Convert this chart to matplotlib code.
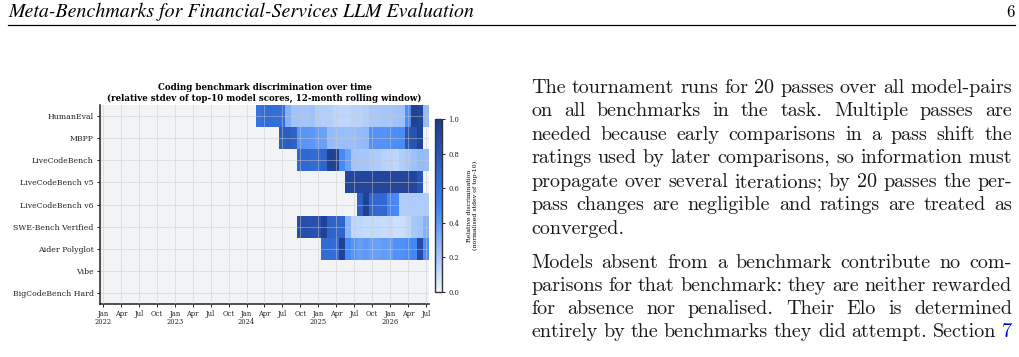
import numpy as np
import matplotlib
matplotlib.use("Agg")
import matplotlib.pyplot as plt
from matplotlib.colors import LinearSegmentedColormap
from matplotlib.lines import Line2D

# ---------------- data ----------------
benchmarks = ["HumanEval", "MBPP", "LiveCodeBench", "LiveCodeBench v5",
              "LiveCodeBench v6", "SWE-Bench Verified", "Aider Polyglot",
              "Vibe", "BigCodeBench Hard"]
n_months = 55  # Jan 2022 .. Jul 2026
tick_labels = ["Jan\n2022", "Apr", "Jul", "Oct", "Jan\n2023", "Apr", "Jul", "Oct",
               "Jan\n2024", "Apr", "Jul", "Oct", "Jan\n2025", "Apr", "Jul", "Oct",
               "Jan\n2026", "Apr", "Jul"]
# first month index (0 = Jan 2022) at which each benchmark has a value
first_month = [26, 30, 33, 41, 43, 33, 37, None, None]

humaneval = [0.60, 0.65, 0.65, 0.64, 0.63, 0.30, 0.22, 0.22, 0.21, 0.22, 0.18, 0.17,
             0.17, 0.14, 0.14, 0.14, 0.16, 0.16, 0.17, 0.20, 0.20, 0.21, 0.21, 0.22,
             0.23, 0.45, 0.95, 0.92, 0.26]
mbpp = [0.75, 0.75, 0.72, 0.42, 0.42, 0.41, 0.38, 0.37, 0.25, 0.24, 0.24, 0.24,
        0.24, 0.25, 0.26, 0.43, 0.43, 0.43, 0.44, 0.45, 0.46, 0.80, 0.82, 0.93]
livecodebench = [0.68, 0.68, 0.66, 0.66, 0.70, 0.96, 0.93, 0.47, 0.37, 0.22, 0.21,
                 0.21, 0.19, 0.18, 0.16, 0.15, 0.14, 0.17, 0.20, 0.23, 0.25, 0.25]
livecodebench_v5 = [0.92, 0.92, 0.92, 0.92, 0.92, 0.92, 0.92, 0.92, 0.92, 0.92,
                    0.92, 0.92, 0.82]
livecodebench_v6 = [0.74, 0.96, 0.68, 0.68, 0.67, 0.48, 0.47, 0.18, 0.18, 0.18,
                    0.18, 0.18]
swe_bench_verified = [0.85, 0.85, 0.84, 0.83, 0.95, 0.72, 0.71, 0.70, 0.28, 0.14,
                      0.13, 0.12, 0.12, 0.12, 0.11, 0.12, 0.10, 0.10, 0.13, 0.20,
                      0.22, 0.30]
aider_polyglot = [0.66, 0.66, 0.64, 0.95, 0.47, 0.42, 0.38, 0.40, 0.37, 0.37, 0.39,
                  0.38, 0.44, 0.44, 0.45, 0.48, 0.88, 0.45]
vibe = []
bigcodebench_hard = []
series = [humaneval, mbpp, livecodebench, livecodebench_v5, livecodebench_v6,
          swe_bench_verified, aider_polyglot, vibe, bigcodebench_hard]

header_text = "Meta-Benchmarks for Financial-Services LLM Evaluation"
page_number = "6"
paragraph1 = [
    "The tournament runs for 20 passes over all model-pairs",
    "on all benchmarks in the task.  Multiple passes are",
    "needed because early comparisons in a pass shift the",
    "ratings used by later comparisons, so information must",
    "propagate over several iterations; by 20 passes the per-",
    "pass changes are negligible and ratings are treated as",
    "converged.",
]
paragraph2 = [
    "Models absent from a benchmark contribute no com-",
    "parisons for that benchmark: they are neither rewarded",
    "for absence nor penalised.  Their Elo is determined",
    "entirely by the benchmarks they did attempt. Section 7",
]

# ---------------- figure ----------------
W, H = 1020, 357
fig = plt.figure(figsize=(W / 100, H / 100), dpi=100)
fig.patch.set_facecolor("white")
plt.rcParams["font.family"] = ["DejaVu Serif"]

Z = np.full((len(benchmarks), n_months), np.nan)
for i, (start, vals) in enumerate(zip(first_month, series)):
    if start is not None:
        Z[i, start:start + len(vals)] = vals

cmap = LinearSegmentedColormap.from_list("disc", ["#eff6ff", "#3b82f6", "#1e3a8a"])

ax = fig.add_axes([100 / W, 1 - 304 / H, 329 / W, 199 / H])
ax.set_facecolor("#f2f3f5")
xe = np.arange(n_months + 1) - 0.5
ye = np.arange(len(benchmarks) + 1) - 0.5
mesh = ax.pcolormesh(xe, ye, np.ma.masked_invalid(Z), cmap=cmap, vmin=0, vmax=1,
                     shading="flat", linewidth=0, zorder=1)
ax.set_xlim(-0.5, n_months - 0.5)
ax.set_ylim(len(benchmarks) - 0.5, -0.5)
ax.set_yticks(np.arange(len(benchmarks)))
ax.set_yticklabels(benchmarks, fontsize=5.6)
ax.set_xticks(np.arange(0, n_months, 3))
ax.set_xticklabels(tick_labels, fontsize=4.9, linespacing=1.0)
ax.tick_params(axis="both", length=2.5, width=0.7, pad=2, colors="#222222")
ax.set_axisbelow(False)
ax.grid(True, color="#c8c8c8", linewidth=0.6, alpha=0.55, zorder=2)
for s in ["top", "right"]:
    ax.spines[s].set_visible(False)
for s in ["left", "bottom"]:
    ax.spines[s].set_linewidth(1.1)
    ax.spines[s].set_color("#222222")
ax.set_title("Coding benchmark discrimination over time\n"
             "(relative stdev of top-10 model scores, 12-month rolling window)",
             fontsize=6.2, fontweight="bold", pad=3, linespacing=1.2)

cax = fig.add_axes([435 / W, 1 - 292 / H, 7 / W, 173 / H])
cb = fig.colorbar(mesh, cax=cax)
cb.set_ticks([0, 0.2, 0.4, 0.6, 0.8, 1.0])
cb.set_ticklabels(["0.0", "0.2", "0.4", "0.6", "0.8", "1.0"])
cb.ax.tick_params(labelsize=4.9, length=2.5, width=0.7, pad=2, colors="#222222")
cb.outline.set_linewidth(1.0)
cb.outline.set_edgecolor("#333333")
cb.set_label("Relative discrimination\n(normalised stdev of top-10)",
             fontsize=4.5, labelpad=6, linespacing=1.1)

# ---------------- page text ----------------
renderer = fig.canvas.get_renderer()

# header
hdr = fig.text(8 / W, 1 - 17 / H, header_text, family="STIXGeneral", style="italic",
               fontsize=12, va="baseline", ha="left")
wd = hdr.get_window_extent(renderer).width
hdr.set_fontsize(12 * 464 / wd)
fig.text(1015 / W, 1 - 17 / H, page_number, family="cmr10", fontsize=12,
         va="baseline", ha="right")
fig.add_artist(Line2D([8 / W, 1015 / W], [1 - 25 / H, 1 - 25 / H],
                      color="black", linewidth=0.9))

BODY = 14.5
X0, X1 = 531, 1012


def put_line(text, y_base, justify):
    words = text.split()
    arts = []
    for w in words:
        col = "#0000ee" if w == "7" else "#1a1a1a"
        arts.append(fig.text(0, 1 - y_base / H, w, family="cmr10", fontsize=BODY,
                             va="baseline", ha="left", color=col))
    widths = [a.get_window_extent(renderer).width for a in arts]
    if justify and len(words) > 1:
        gap = (X1 - X0 - sum(widths)) / (len(words) - 1)
    else:
        gap = BODY * 1.389 * 0.33
    x = X0
    for a, w in zip(arts, widths):
        a.set_x(x / W)
        x += w + gap


y = 93
for k, line in enumerate(paragraph1):
    put_line(line, y, justify=(k < len(paragraph1) - 1))
    y += 23.5
y = 268
for k, line in enumerate(paragraph2):
    put_line(line, y, justify=True)
    y += 23.0

fig.savefig("out.png", dpi=100, facecolor="white")
